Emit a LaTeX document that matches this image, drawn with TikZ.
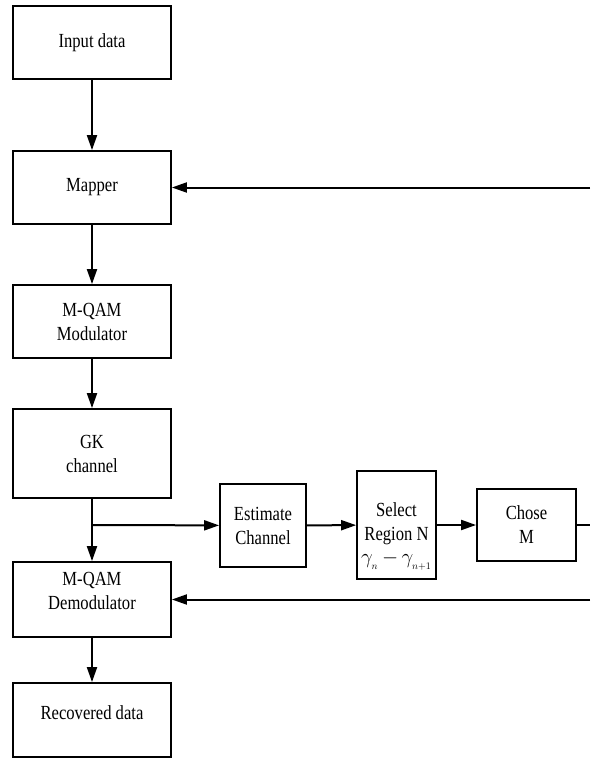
\documentclass[tikz,border=0pt]{standalone}
\usepackage{fontspec}
\setmainfont[FakeStretch=0.83]{Liberation Serif}
\usetikzlibrary{arrows.meta}
\begin{document}
\begin{tikzpicture}[x=1pt,y=-1pt,
  box/.style={draw, line width=1.8pt, inner sep=0pt, align=center,
    font=\fontsize{20}{24}\selectfont},
  flow/.style={line width=2pt, -{Triangle[length=15pt,width=10pt]}},
  plain/.style={line width=2pt}]
\useasboundingbox (0,0) rectangle (590,758);

% transmitter chain
\node[box, minimum width=158pt, minimum height=73pt] (input)  at (92,42.5)  {Input data};
\node[box, minimum width=158pt, minimum height=73pt] (mapper) at (92,187.5) {Mapper};
\node[box, minimum width=158pt, minimum height=73pt] (mod)    at (92,321.5) {M-QAM\\Modulator};
\node[box, minimum width=158pt, minimum height=89pt] (gk)     at (92,453.5) {GK\\channel};

% receiver chain
\node[box, minimum width=158pt, minimum height=75pt, text depth=17pt] (demod) at (92,599.5) {M-QAM\\Demodulator};
\node[box, minimum width=158pt, minimum height=74pt, text depth=14pt] (rec)   at (92,720)   {Recovered data};

% adaptation loop
\node[box, minimum width=86pt, minimum height=83pt]  (est)   at (263,525.5) {Estimate\\Channel};
\node[box, minimum width=79pt, minimum height=108pt, text height=84pt] (sel) at (396.5,525)
  {Select\\Region N\\[-1pt]$\gamma_{_{n}}\,{-}\,\gamma_{_{n+1}}$};
\node[box, minimum width=99pt, minimum height=72pt]  (chose) at (526.5,525) {Chose\\M};

\coordinate (branch) at (92,525);
\coordinate (outM)   at (590,525);
\coordinate (fbDem)  at (590,599.5);
\coordinate (fbMap)  at (590,187.5);

\draw[flow] (input) -- (mapper);
\draw[flow] (mapper) -- (mod);
\draw[flow] (mod) -- (gk);
\draw[flow] (gk) -- (demod);
\draw[flow] (demod) -- (rec);
\draw[flow] (branch) -- (est);
\draw[flow] (est) -- (sel);
\draw[flow] (sel) -- (chose);
\draw[plain] (chose) -- (outM);
\draw[flow] (fbDem) -- (demod);
\draw[flow] (fbMap) -- (mapper);
\end{tikzpicture}
\end{document}
